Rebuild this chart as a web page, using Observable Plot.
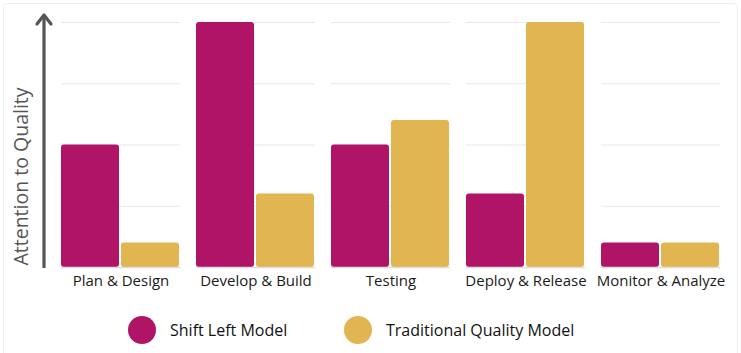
<!DOCTYPE html>
<html>
<head>
<meta charset="utf-8">
<script src="https://cdn.jsdelivr.net/npm/d3@7"></script>
<script src="https://cdn.jsdelivr.net/npm/@observablehq/plot@0.6"></script>
<style>
  html, body { margin: 0; padding: 0; background: #fff; }
  body { width: 741px; height: 353px; overflow: hidden; position: relative; font-family: "Open Sans", sans-serif; }
  #frame { position: absolute; left: 3px; top: 3px; width: 733px; height: 380px; border: 1px solid #efefef; border-radius: 4px; }
  #chart { position: absolute; left: 0; top: 0; }
  #legend { position: absolute; top: 316px; left: 0; width: 741px; height: 28px; font-size: 16px; color: #111; }
  .item { position: absolute; display: flex; align-items: center; height: 28px; }
  .dot { width: 28px; height: 28px; border-radius: 50%; margin-right: 14px; }
</style>
</head>
<body>
<div id="frame"></div>
<div id="chart"></div>
<div id="legend"></div>
<script>
const stages = ["Plan & Design", "Develop & Build", "Testing", "Deploy & Release", "Monitor & Analyze"];
const seriesNames = ["Shift Left Model", "Traditional Quality Model"];
const shiftLeft = [2, 4, 2, 1.2, 0.4];
const traditional = [0.4, 1.2, 2.4, 4, 0.4];
const colors = ["#B01467", "#E1B651"];
const gridValues = [1, 2, 3, 4];
const yLabel = "Attention to Quality";

const data = [];
stages.forEach((s, i) => {
  data.push({stage: s, series: seriesNames[0], value: shiftLeft[i]});
  data.push({stage: s, series: seriesNames[1], value: traditional[i]});
});

const plot = Plot.plot({
  width: 741,
  height: 300,
  marginLeft: 61,
  marginRight: 21,
  marginTop: 22,
  marginBottom: 33,
  style: {fontFamily: "Open Sans, sans-serif", fontSize: "15px", color: "#1a1a1a", background: "transparent", overflow: "visible"},
  fx: {domain: stages, paddingInner: 0.12, paddingOuter: 0, label: null},
  x: {domain: seriesNames, paddingInner: 0.03, paddingOuter: 0, axis: null},
  y: {domain: [0, 4], axis: null},
  color: {domain: seriesNames, range: colors},
  marks: [
    Plot.ruleY(gridValues, {stroke: "#e9e9e9", strokeWidth: 1}),
    Plot.barY(data, {fx: "stage", x: "series", y: "value", fill: "series", rx: 3}),
    Plot.ruleY([0], {stroke: "#dcdcdc", strokeWidth: 1.5}),
    Plot.axisFx({anchor: "bottom", tickSize: 0, tickPadding: 8, fontSize: "15px", color: "#1a1a1a", label: null})
  ]
});
document.getElementById("chart").appendChild(plot);

// Y-axis arrow and label, positioned from the plot's y scale
const y = plot.scale("y");
const svg = d3.select(plot);
const y0 = y.apply(0), yTop = y.apply(4) - 8;
const ax = 44;
svg.append("line").attr("x1", ax).attr("x2", ax).attr("y1", y0 + 1).attr("y2", yTop + 4)
  .attr("stroke", "#555").attr("stroke-width", 3.2);
svg.append("path").attr("d", `M${ax - 7},${yTop + 10} L${ax},${yTop + 1} L${ax + 7},${yTop + 10}`)
  .attr("fill", "none").attr("stroke", "#555").attr("stroke-width", 3.2).attr("stroke-linecap", "round").attr("stroke-linejoin", "round");
svg.append("text").text(yLabel)
  .attr("transform", `translate(28,${(y0 + yTop) / 2 + 36}) rotate(-90)`)
  .attr("text-anchor", "middle").attr("fill", "#555").attr("font-size", "19.5px");

// Legend
const legend = document.getElementById("legend");
const lefts = [128, 344];
seriesNames.forEach((name, i) => {
  const it = document.createElement("div");
  it.className = "item";
  it.style.left = lefts[i] + "px";
  it.innerHTML = `<span class="dot" style="background:${colors[i]}"></span><span>${name}</span>`;
  legend.appendChild(it);
});
</script>
</body>
</html>
